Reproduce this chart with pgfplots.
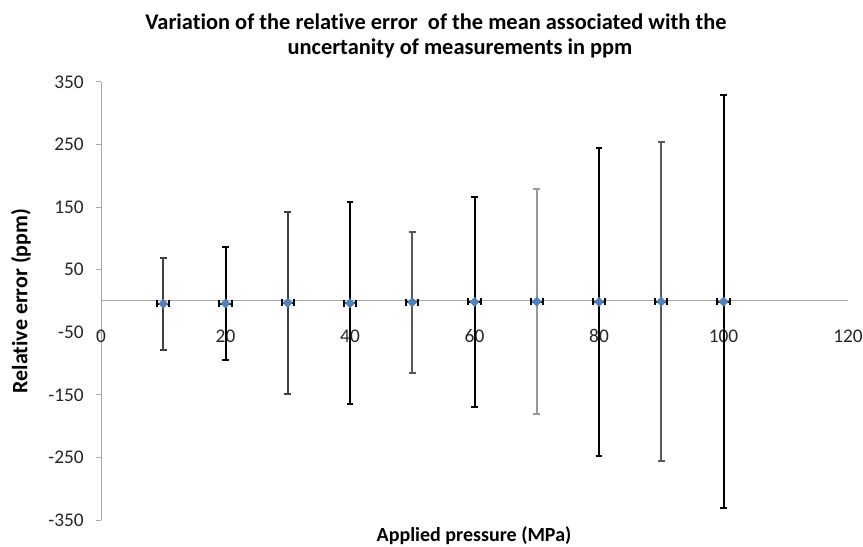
\documentclass[border=0pt]{standalone}
\usepackage{pgfplots}
\pgfplotsset{compat=1.18}
\usepackage{fontspec}
\setmainfont{Carlito}[Ligatures=NoCommon]
\definecolor{markblue}{HTML}{4F81BD}
\definecolor{axgray}{HTML}{A6A6A6}
\definecolor{dgray}{HTML}{404040}
\definecolor{mgray}{HTML}{595959}
\definecolor{lgray}{HTML}{9A9A9A}
\begin{document}
\begin{tikzpicture}
\useasboundingbox (0,0) rectangle (647.25pt,409.5pt);
\begin{axis}[
  at={(75.75pt,19.5pt)}, anchor=south west,
  scale only axis, width=560.25pt, height=328.5pt,
  xmin=0, xmax=120, ymin=-350, ymax=350,
  axis x line=middle, axis y line=left,
  axis line style={draw=axgray, line width=0.75pt, -},
  hide obscured x ticks=false,
  xtick={0,20,...,120}, ytick={-350,-250,...,350},
  tick align=outside,
  major tick length=3.75pt,
  xtick style={draw=none},
  ytick style={draw=axgray, line width=0.75pt},
  /pgf/number format/assume math mode=true,
  tick label style={font=\fontsize{14.5pt}{17pt}\selectfont, text=black!85},
  xticklabel style={anchor=base, yshift=-27.4pt},
  yticklabel style={anchor=east, inner sep=0pt, xshift=-9pt},
  clip=false,
]
% y error bars, black
\addplot[draw=none, mark=none, black,
  error bars/.cd, y dir=both, y explicit,
  error bar style={line width=1.5pt, black},
  error mark options={rotate=90, mark size=2.6pt, line width=1.5pt, black}]
  coordinates {
  (20,-4) +- (0,90)
  (40,-3.5) +- (0,161.5)
  (60,-1.5) +- (0,167.5)
  (80,-1.5) +- (0,245.5)
  (100,-1) +- (0,330)
};
% y error bars, dark gray
\addplot[draw=none, mark=none,
  error bars/.cd, y dir=both, y explicit,
  error bar style={line width=1.5pt, dgray},
  error mark options={rotate=90, mark size=2.6pt, line width=1.5pt, dgray}]
  coordinates {
  (10,-4.5) +- (0,73.5)
  (30,-3) +- (0,145)
};
% y error bars, medium gray
\addplot[draw=none, mark=none,
  error bars/.cd, y dir=both, y explicit,
  error bar style={line width=1.5pt, mgray},
  error mark options={rotate=90, mark size=2.6pt, line width=1.5pt, mgray}]
  coordinates {
  (50,-2) +- (0,113)
  (90,-1) +- (0,255)
};
% y error bars, light gray
\addplot[draw=none, mark=none,
  error bars/.cd, y dir=both, y explicit,
  error bar style={line width=1.5pt, lgray},
  error mark options={rotate=90, mark size=2.6pt, line width=1.5pt, lgray}]
  coordinates {
  (70,-1) +- (0,180)
};
% x error bars
\addplot[draw=none, mark=none,
  error bars/.cd, x dir=both, x fixed=1,
  error bar style={line width=1.5pt, black},
  error mark options={rotate=90, mark size=2.6pt, line width=1.5pt, black}]
  coordinates {
  (10,-4.5) (20,-4) (30,-3) (40,-3.5) (50,-2)
  (60,-1.5) (70,-1) (80,-1.5) (90,-1) (100,-1)
};
% markers
\addplot[only marks, mark=square*, mark size=2.4pt,
  mark options={rotate=45, fill=markblue, draw=markblue}]
  coordinates {
  (10,-4.5) (20,-4) (30,-3) (40,-3.5) (50,-2)
  (60,-1.5) (70,-1) (80,-1.5) (90,-1) (100,-1)
};
\end{axis}
\node[font=\bfseries\fontsize{16.8pt}{20pt}\selectfont] at (327pt,393pt)
  {Variation of the relative error\ \ of the mean associated with the};
\node[font=\bfseries\fontsize{16.8pt}{20pt}\selectfont] at (345pt,373.5pt)
  {uncertanity of measurements in ppm};
\node[font=\bfseries\fontsize{15pt}{18pt}\selectfont] at (355.5pt,7.5pt)
  {Applied pressure (MPa)};
\node[font=\bfseries\fontsize{16.5pt}{19pt}\selectfont, rotate=90] at (15.75pt,183.75pt)
  {Relative error (ppm)};
\end{tikzpicture}
\end{document}
